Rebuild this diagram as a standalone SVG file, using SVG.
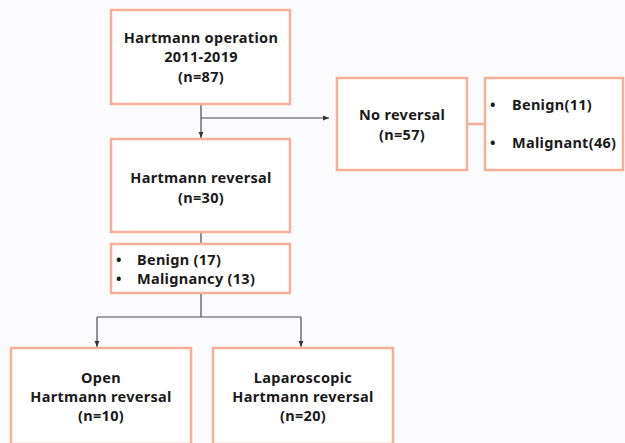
<svg xmlns="http://www.w3.org/2000/svg" width="625" height="443" viewBox="0 0 625 443">
<defs>
<style>
.box{fill:#ffffff;stroke:#f6ae98;stroke-width:2.5}
.t{font-family:"Noto Sans","Open Sans","DejaVu Sans",sans-serif;font-weight:bold;font-size:14.5px;letter-spacing:0.3px;fill:#1a1a1a}
.c{text-anchor:middle}
.ln{stroke:#4a4a4a;stroke-width:1.2;fill:none}
.sl{stroke:#f6ae98;stroke-width:2.5;fill:none}
</style>
<marker id="ah" viewBox="0 0 10 10" refX="10" refY="5" markerWidth="6" markerHeight="6" orient="auto" markerUnits="userSpaceOnUse">
<path d="M0,1 L10,5 L0,9 z" fill="#333"/>
</marker>
</defs>
<rect width="625" height="443" fill="#fbfbfd"/>
<g id="connectors">
<line class="ln" x1="201" y1="104" x2="201" y2="138" marker-end="url(#ah)"/>
<line class="ln" x1="201" y1="118" x2="329" y2="118" marker-end="url(#ah)"/>
<line class="ln" x1="201" y1="232" x2="201" y2="244"/>
<line class="ln" x1="201" y1="293" x2="201" y2="317"/>
<line class="ln" x1="97" y1="317" x2="301" y2="317"/>
<line class="ln" x1="97" y1="317" x2="97" y2="347" marker-end="url(#ah)"/>
<line class="ln" x1="301" y1="317" x2="301" y2="347" marker-end="url(#ah)"/>
<line class="sl" x1="467" y1="124" x2="485" y2="124"/>
</g>
<g id="hartmann-operation">
<rect class="box" x="111" y="10" width="179" height="94"/>
<text class="t c" x="201" y="43">Hartmann operation</text>
<text class="t c" x="201" y="62">2011-2019</text>
<text class="t c" x="201" y="82">(n=87)</text>
</g>
<g id="no-reversal">
<rect class="box" x="337" y="78" width="130" height="92"/>
<text class="t c" x="402" y="120">No reversal</text>
<text class="t c" x="402" y="140">(n=57)</text>
</g>
<g id="no-reversal-types">
<rect class="box" x="485" y="78" width="138" height="92"/>
<text class="t" x="490" y="110">•</text>
<text class="t" x="512" y="110">Benign(11)</text>
<text class="t" x="490" y="148">•</text>
<text class="t" x="512" y="148">Malignant(46)</text>
</g>
<g id="hartmann-reversal">
<rect class="box" x="111" y="139" width="179" height="93"/>
<text class="t c" x="201" y="183">Hartmann reversal</text>
<text class="t c" x="201" y="203">(n=30)</text>
</g>
<g id="reversal-types">
<rect class="box" x="111" y="244" width="179" height="49"/>
<text class="t" x="116" y="265">•</text>
<text class="t" x="137" y="265">Benign (17)</text>
<text class="t" x="116" y="284">•</text>
<text class="t" x="137" y="284">Malignancy (13)</text>
</g>
<g id="open-reversal">
<rect class="box" x="11" y="348" width="180" height="96"/>
<text class="t c" x="101" y="383">Open</text>
<text class="t c" x="101" y="402">Hartmann reversal</text>
<text class="t c" x="101" y="421">(n=10)</text>
</g>
<g id="laparoscopic-reversal">
<rect class="box" x="213" y="348" width="180" height="96"/>
<text class="t c" x="303" y="383">Laparoscopic</text>
<text class="t c" x="303" y="402">Hartmann reversal</text>
<text class="t c" x="303" y="421">(n=20)</text>
</g>
</svg>
